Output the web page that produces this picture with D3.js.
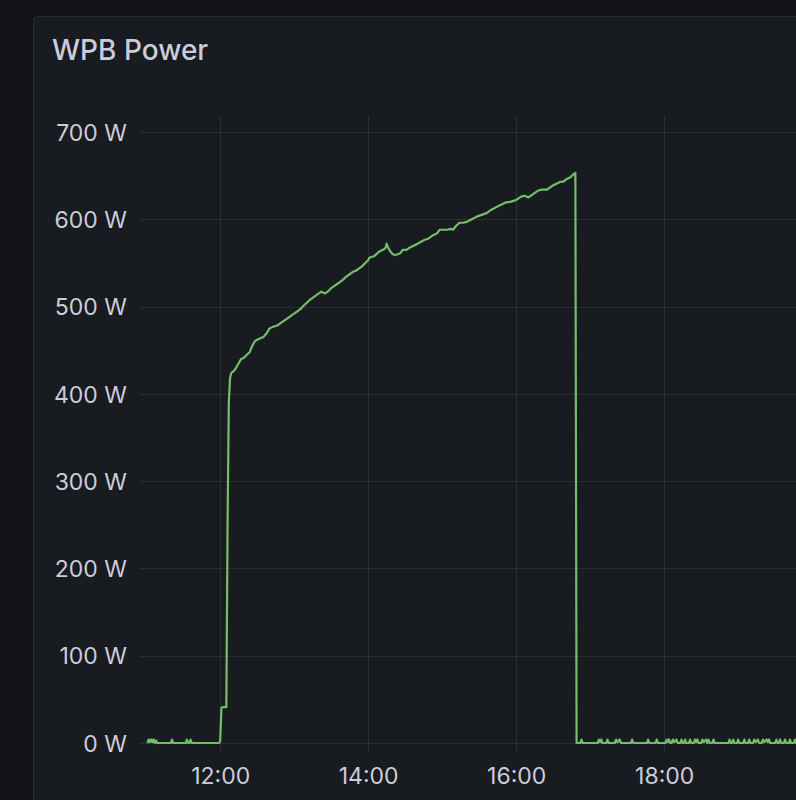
<!DOCTYPE html>
<html>
<head>
<meta charset="utf-8">
<script src="https://cdn.jsdelivr.net/npm/d3@7"></script>
<style>
  html, body { margin: 0; padding: 0; background: #111217; overflow: hidden; }
  svg { display: block; }
  text { font-family: Inter, "Noto Sans", sans-serif; }
</style>
</head>
<body>
<svg id="chart" width="796" height="800"></svg>
<script>
// ---- data ----
const title = "WPB Power";
const unit = "W";
const yTicks = [0, 100, 200, 300, 400, 500, 600, 700];
const xTickLabels = ["12:00", "14:00", "16:00", "18:00"];
const xDomainLabels = ["10:55", "20:00"];

const idleMorningTimes = ["11:01","11:02","11:03","11:04","11:05","11:06","11:07","11:08","11:09","11:20","11:21","11:22","11:32","11:33","11:34","11:35","11:36","11:37","11:59","12:00","12:01","12:02","12:05"];
const idleMorningWatts = [0,4,1,4,1,4,0,3,0,0,4,0,0,4,0,0,4,0,0,2,40,41,41];

const chargeTimes = ["12:06","12:07","12:08","12:09","12:11","12:13","12:15","12:17","12:19","12:21","12:24","12:26","12:28","12:30","12:33","12:35","12:38","12:40","12:43","12:46","12:49","12:51","12:54","12:56","12:59","13:02","13:05","13:07","13:10","13:13","13:15","13:18","13:20","13:22","13:25","13:28","13:30","13:33","13:36","13:39","13:42","13:45","13:48","13:50","13:53","13:55","13:57","14:00","14:01","14:05","14:09","14:12","14:14","14:15","14:16","14:18","14:20","14:22","14:24","14:26","14:28","14:31","14:33","14:36","14:40","14:45","14:49","14:53","14:56","14:58","15:01","15:04","15:07","15:09","15:11","15:14","15:17","15:20","15:24","15:28","15:32","15:36","15:40","15:44","15:47","15:51","15:55","15:58","16:01","16:04","16:07","16:10","16:14","16:18","16:21","16:25","16:29","16:33","16:36","16:38","16:41","16:44","16:46","16:48"];
const chargeWatts = [250,390,418,424,426,430,435,440,441,444,448,455,460,462,464,465,470,475,477,478,481,483,486,488,491,494,497,500,504,508,510,513,515,517,515,518,521,524,527,530,534,537,540,541,544,546,549,553,556,558,563,565,567,572,568,563,560,559,560,561,565,565,567,569,572,576,578,582,584,588,588,588,589,588,592,596,596,597,600,603,605,607,611,614,616,619,620,621,623,626,627,625,629,633,634,634,638,641,643,643,646,648,651,653];

const idleEveningTimes = ["16:49","16:52","16:53","16:54","17:06","17:07","17:08","17:09","17:10","17:13","17:14","17:15","17:20","17:21","17:22","17:24","17:25","17:33","17:34","17:35","17:46","17:47","17:48","17:53","17:54","17:55","18:01","18:02","18:03","18:04","18:05","18:06","18:07","18:08","18:10","18:11","18:13","18:14","18:15","18:16","18:17","18:18","18:20","18:21","18:22","18:24","18:25","18:26","18:27","18:28","18:30","18:31","18:32","18:34","18:35","18:36","18:37","18:39","18:40","18:41","18:52","18:53","18:54","18:55","18:56","18:57","18:59","19:00","19:01","19:04","19:05","19:06","19:08","19:09","19:10","19:12","19:13","19:14","19:16","19:17","19:19","19:20","19:21","19:23","19:24","19:25","19:26","19:30","19:31","19:32","19:33","19:34","19:35","19:37","19:38","19:39","19:41","19:42","19:43","19:45","19:46","19:47","19:50"];
const idleEveningWatts = [0,0,4,0,0,4,1,4,0,0,4,0,0,4,1,4,0,0,4,0,0,4,0,0,4,0,0,4,1,4,0,0,4,1,4,0,0,4,0,0,4,0,0,4,0,0,4,1,4,0,0,4,1,4,0,4,0,0,4,0,0,4,0,0,4,0,0,4,0,0,4,0,0,4,0,0,4,1,4,0,0,4,1,4,1,4,0,0,4,0,0,4,0,0,4,0,0,4,0,0,4,0,0];

// ---- build series ----
const parse = d3.timeParse("%H:%M");
const allTimes = idleMorningTimes.concat(chargeTimes, idleEveningTimes);
const allWatts = idleMorningWatts.concat(chargeWatts, idleEveningWatts);
const series = allTimes.map((t, i) => ({ t: parse(t), v: allWatts[i] }));

// ---- layout ----
const W = 796, H = 800;
const svg = d3.select("#chart");

svg.append("rect").attr("x", 0).attr("y", 0).attr("width", W).attr("height", H).attr("fill", "#111217");
svg.append("rect")
  .attr("x", 33.5).attr("y", 16.5)
  .attr("width", W + 20).attr("height", H + 20)
  .attr("rx", 4)
  .attr("fill", "#181b1f")
  .attr("stroke", "#2c2e33").attr("stroke-width", 1);

svg.append("text")
  .attr("x", 52).attr("y", 60)
  .attr("fill", "#ccccdc")
  .attr("font-size", 28)
  .attr("font-weight", 500)
  .text(title);

const x = d3.scaleTime()
  .domain(xDomainLabels.map(parse))
  .range([140, 140 + (9 + 5 / 60) * 74]);

const y = d3.scaleLinear()
  .domain([-10.3, 718.3])
  .range([752, 116]);

const plotLeft = 140, plotRight = W + 20, plotTop = 116, plotBottom = 752;
const gridColor = "rgba(204,204,220,0.11)";

// grid lines
const grid = svg.append("g");
grid.selectAll("line.h").data(yTicks).join("line")
  .attr("x1", plotLeft).attr("x2", plotRight)
  .attr("y1", d => Math.round(y(d)) + 0.5).attr("y2", d => Math.round(y(d)) + 0.5)
  .attr("stroke", gridColor);
const xTicks = xTickLabels.map(parse);
grid.selectAll("line.v").data(xTicks).join("line")
  .attr("y1", plotTop).attr("y2", plotBottom)
  .attr("x1", d => Math.round(x(d)) + 0.5).attr("x2", d => Math.round(x(d)) + 0.5)
  .attr("stroke", gridColor);

// axes
const yAxis = d3.axisLeft(y).tickValues(yTicks).tickSize(0).tickPadding(0)
  .tickFormat(d => d + " " + unit);
const gy = svg.append("g").attr("transform", "translate(127,0)").call(yAxis);
gy.select(".domain").remove();
gy.selectAll("text")
  .attr("fill", "#ccccdc")
  .attr("font-size", 23)
  .attr("font-family", "Inter, sans-serif")
  .attr("dy", "0.36em");

const xAxis = d3.axisBottom(x).tickValues(xTicks).tickSize(0).tickPadding(0)
  .tickFormat(d3.timeFormat("%H:%M"));
const gx = svg.append("g").attr("transform", "translate(0,776)").call(xAxis);
gx.select(".domain").remove();
gx.selectAll("text")
  .attr("fill", "#ccccdc")
  .attr("font-size", 23)
  .attr("font-family", "Inter, sans-serif")
  .attr("dy", "0.36em");

// line
const line = d3.line().x(d => x(d.t)).y(d => y(d.v)).curve(d3.curveLinear);
svg.append("path")
  .datum(series)
  .attr("d", line)
  .attr("fill", "none")
  .attr("stroke", "#73bf69")
  .attr("stroke-width", 2.2)
  .attr("stroke-linejoin", "round");
</script>
</body>
</html>
